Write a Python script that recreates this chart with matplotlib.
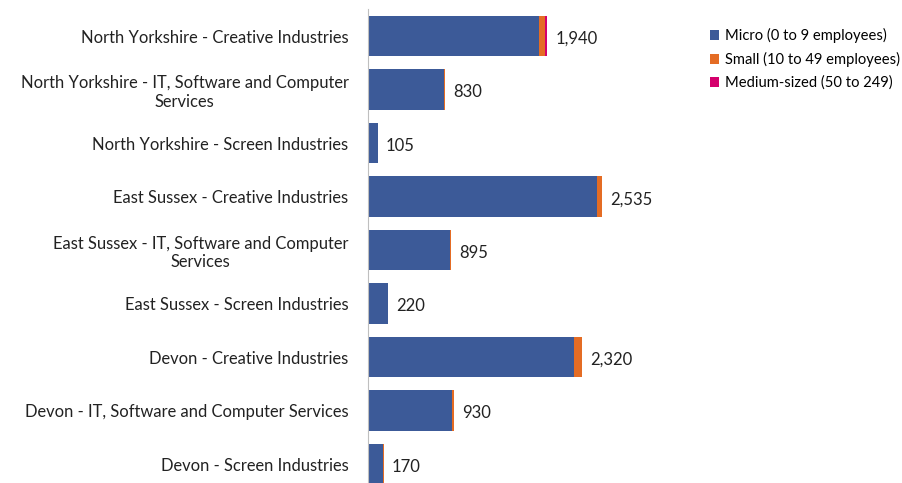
import matplotlib.pyplot as plt
import numpy as np

plt.rcParams['font.family'] = ['Lato', 'DejaVu Sans']

# business counts by size band for each area/sector
categories = [
    "North Yorkshire - Creative Industries",
    "North Yorkshire - IT, Software and Computer\nServices",
    "North Yorkshire - Screen Industries",
    "East Sussex - Creative Industries",
    "East Sussex - IT, Software and Computer\nServices",
    "East Sussex - Screen Industries",
    "Devon - Creative Industries",
    "Devon - IT, Software and Computer Services",
    "Devon - Screen Industries",
]
micro = [1855, 825, 105, 2480, 890, 220, 2230, 915, 165]
small = [65, 5, 0, 55, 5, 0, 90, 15, 5]
medium = [20, 0, 0, 0, 0, 0, 0, 0, 0]
totals = [1940, 830, 105, 2535, 895, 220, 2320, 930, 170]
series_names = ["Micro (0 to 9 employees)", "Small (10 to 49 employees)",
                "Medium-sized (50 to 249)"]
colors = ["#3C5A98", "#E46C24", "#D4006C"]

fig = plt.figure(figsize=(9.03, 4.83), dpi=100)
ax = fig.add_axes([368 / 903, 0, 323 / 903, (483 - 9.25) / 483])

y = np.arange(len(categories))
left = np.zeros(len(categories))
for vals, name, c in zip([micro, small, medium], series_names, colors):
    ax.barh(y, vals, left=left, height=0.75, color=c, label=name)
    left += np.array(vals)

for yi, tot in zip(y, totals):
    ax.annotate(f"{tot:,}", (tot, yi), xytext=(6, -2), textcoords="offset points",
                va="center", ha="left", fontsize=12, color="#222222")

ax.set_xlim(0, 3500)
ax.set_ylim(8.355, -0.5)
ax.set_yticks(y)
ax.set_yticklabels(categories, fontsize=11.9, multialignment="center", color="#222222",
                   linespacing=1.2)
ax.tick_params(axis="y", length=0, pad=14)
ax.set_xticks([])
for s in ["top", "right", "bottom"]:
    ax.spines[s].set_visible(False)
ax.spines["left"].set_color("#BFBFBF")

fig.legend(loc="upper left", bbox_to_anchor=(704 / 903, 1 - 22 / 483), frameon=False,
           fontsize=10.6, handlelength=0.65, handleheight=0.65, handletextpad=0.4,
           labelspacing=0.6, borderaxespad=0)

fig.savefig("out.png", dpi=100)
